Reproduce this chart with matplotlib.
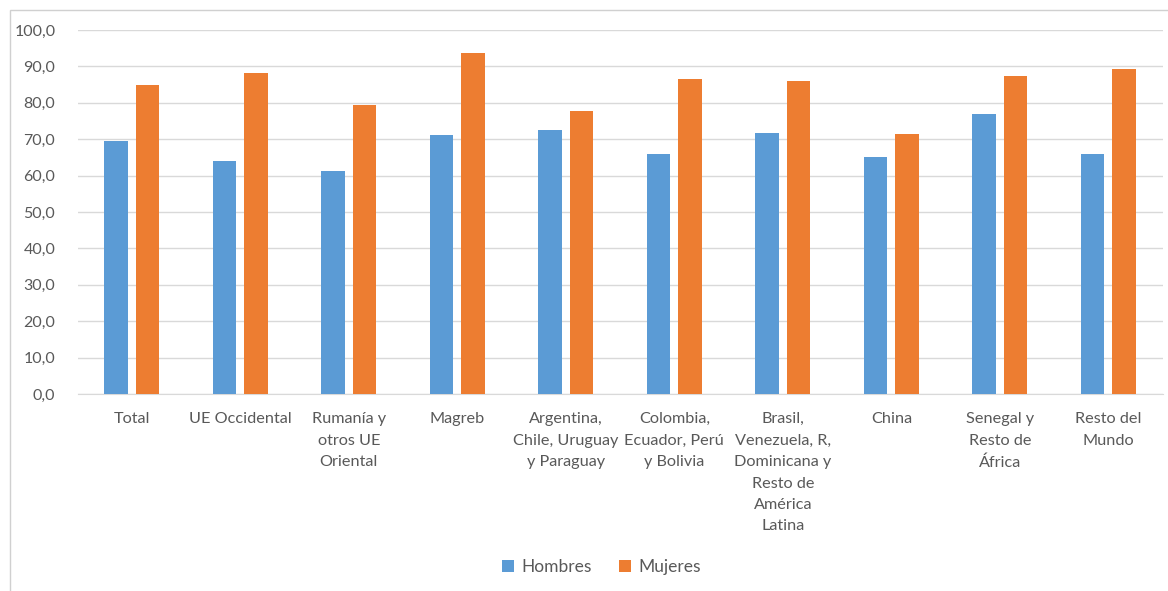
import numpy as np
import matplotlib.pyplot as plt
import matplotlib.patches as mpatches

plt.rcParams['font.family'] = ['Lato', 'DejaVu Sans']

categorias = ['Total', 'UE Occidental', 'Rumanía y\notros UE\nOriental', 'Magreb',
              'Argentina,\nChile, Uruguay\ny Paraguay', 'Colombia,\nEcuador, Perú\ny Bolivia',
              'Brasil,\nVenezuela, R,\nDominicana y\nResto de\nAmérica\nLatina',
              'China', 'Senegal y\nResto de\nÁfrica', 'Resto del\nMundo']
hombres = [69.6, 64.1, 61.3, 71.2, 72.5, 65.9, 71.6, 65.0, 76.9, 65.9]
mujeres = [85.0, 88.1, 79.3, 93.7, 77.7, 86.5, 85.9, 71.3, 87.4, 89.2]
yticks = np.arange(0, 101, 10)

azul = '#5B9BD5'
naranja = '#ED7D31'
gris = '#595959'

fig = plt.figure(figsize=(11.68, 5.91), dpi=100)
# marco exterior del gráfico
fig.patches.append(mpatches.Rectangle((10/1168, -0.1), 1.2, 1 - 10/591 + 0.1,
                                      transform=fig.transFigure, fill=False,
                                      edgecolor='#d0d0d0', linewidth=1))
ax = fig.add_axes([0.0664, 0.3333, 0.929, 0.6159])

x = np.arange(len(categorias))
w = 0.215
ax.bar(x - 0.145, hombres, w, color=azul, label='Hombres', zorder=3)
ax.bar(x + 0.145, mujeres, w, color=naranja, label='Mujeres', zorder=3)

ax.set_xlim(-0.5, len(categorias) - 0.5)
ax.set_ylim(0, 100)
ax.set_yticks(yticks)
ax.set_yticklabels([f'{v:.1f}'.replace('.', ',') for v in yticks], fontsize=11.5, color=gris)
ax.set_xticks(x)
ax.set_xticklabels(categorias, fontsize=11.7, color=gris, linespacing=1.68, va='top')
ax.tick_params(axis='both', length=0)
ax.tick_params(axis='x', pad=13)
ax.tick_params(axis='y', pad=16)
ax.grid(axis='y', color='#d9d9d9', linewidth=1, zorder=0)
for s in ['top', 'right', 'left']:
    ax.spines[s].set_visible(False)
ax.spines['bottom'].set_color('#d9d9d9')

fig.legend(loc='center', bbox_to_anchor=(0.515, 1 - 567/591), ncol=2, frameon=False,
           fontsize=12.5, handlelength=0.7, handleheight=0.7, handletextpad=0.4,
           columnspacing=1.6, labelcolor=gris)

fig.savefig('out.png', dpi=100)
